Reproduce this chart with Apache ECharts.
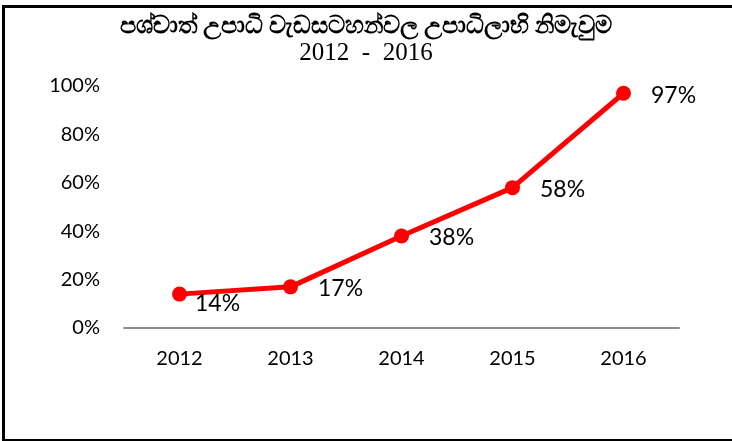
<!DOCTYPE html>
<html>
<head>
<meta charset="utf-8">
<script src="https://cdn.jsdelivr.net/npm/echarts@6/dist/echarts.min.js"></script>
<style>
  html, body {margin: 0; padding: 0; background: #fff;}
  #frame {position: absolute; left: 2px; top: 5px; width: 760px; height: 431px; border: 3px solid #000; box-sizing: content-box;}
  #chart {position: absolute; left: 0; top: 0; width: 732px; height: 441px;}
</style>
</head>
<body>
<div id="frame"></div>
<div id="chart"></div>
<script>
  var years = ["2012", "2013", "2014", "2015", "2016"];
  var rates = [14, 17, 38, 58, 97];
  var yTicks = [0, 20, 40, 60, 80, 100];

  var chart = echarts.init(document.getElementById("chart"));
  var labelFont = "Lato, 'Open Sans', sans-serif";
  var option = {
    animation: false,
    title: [{
      text: "පශ්චාත් උපාධි වැඩසටහන්වල උපාධිලාභි නිමැවුම",
      left: "center", top: 9,
      textStyle: {fontSize: 24, fontWeight: "bold", color: "#000", fontFamily: "'Noto Sans', sans-serif"}
    }, {
      text: "2012  -  2016",
      left: "center", top: 36,
      textStyle: {fontSize: 25, fontWeight: "normal", color: "#000", fontFamily: "'Liberation Serif', serif"}
    }],
    grid: {left: 124, right: 53, top: 86, bottom: 113},
    xAxis: {
      type: "category",
      data: years,
      boundaryGap: true,
      axisLine: {lineStyle: {color: "#8c8c8c", width: 2}},
      axisTick: {show: false},
      axisLabel: {margin: 21, fontSize: 20, color: "#000", fontFamily: labelFont}
    },
    yAxis: {
      type: "value",
      min: yTicks[0], max: yTicks[yTicks.length - 1], interval: 20,
      splitLine: {show: false},
      axisLine: {show: false},
      axisTick: {show: false},
      axisLabel: {margin: 24, fontSize: 20, color: "#000", fontFamily: labelFont, formatter: "{value}%"}
    },
    series: [{
      type: "line",
      data: rates.map(function (v, i) {
        var d = {value: v};
        if (i === 0) d.label = {offset: [-12, 9]};
        return d;
      }),
      lineStyle: {color: "#ff0000", width: 5},
      itemStyle: {color: "#ff0000"},
      symbol: "circle",
      symbolSize: 15,
      label: {
        show: true, position: "right", distance: 20, offset: [0, 2],
        formatter: "{c}%", fontSize: 23, color: "#000", fontFamily: labelFont
      }
    }]
  };
  chart.setOption(option);
</script>
</body>
</html>
